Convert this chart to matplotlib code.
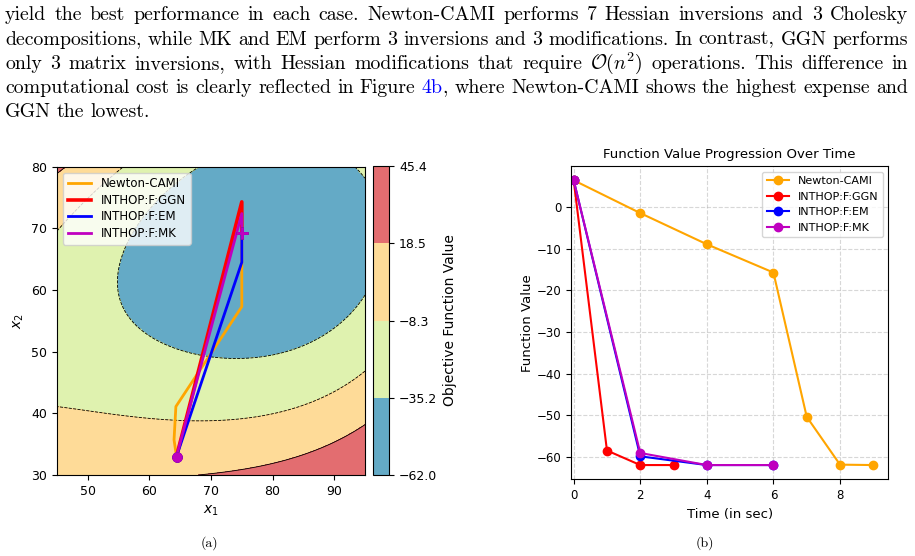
import numpy as np
import matplotlib
matplotlib.use("Agg")
import matplotlib.pyplot as plt
from matplotlib.transforms import IdentityTransform

W, H = 915, 556
fig = plt.figure(figsize=(W / 100, H / 100), dpi=100)

# ---------------- data ----------------
# contour level points (x1, x2) -> objective value
lvl_x1 = [67.0, 61.7, 56.8, 55.5, 56.9, 63.3, 70.9, 82.3, 89.9, 93.6, 95.0, 95.0, 93.6,
          45.0, 54.1, 64.4, 76.9, 87.7, 95.0, 45.0, 56.8,
          70.9, 82.3, 95.0,
          75.0, 95.0, 45.0, 45.0]
lvl_x2 = [80.0, 73.5, 64.9, 60.0, 54.6, 50.3, 48.7, 50.3, 53.5, 56.8, 59.2, 77.0, 80.0,
          41.2, 39.4, 38.3, 39.5, 43.3, 46.8, 69.7, 80.0,
          30.0, 33.5, 38.1,
          69.2, 30.0, 80.0, 30.0]
lvl_f = [-35.2] * 13 + [-8.3] * 8 + [18.5] * 3 + [-62.0, 45.4, 21.0, 12.0]

f_min, f_max = -62.0, 45.4
cbar_labels = ["\u221262.0", "\u221235.2", "\u22128.3", "18.5", "45.4"]

methods = ["Newton-CAMI", "INTHOP:F:GGN", "INTHOP:F:EM", "INTHOP:F:MK"]
colors = ["orange", "red", "blue", "m"]

path_x1 = {
    "Newton-CAMI": [64.4, 64.0, 64.3, 75.0, 75.0, 75.0],
    "INTHOP:F:GGN": [64.4, 75.0, 75.0, 75.0],
    "INTHOP:F:EM": [64.4, 75.0, 75.0, 75.0],
    "INTHOP:F:MK": [64.4, 75.0, 75.0, 75.0],
}
path_x2 = {
    "Newton-CAMI": [33.0, 35.7, 41.1, 57.3, 64.3, 69.2],
    "INTHOP:F:GGN": [33.0, 74.3, 69.2, 69.2],
    "INTHOP:F:EM": [33.0, 64.5, 69.2, 69.2],
    "INTHOP:F:MK": [33.0, 72.4, 69.2, 69.2],
}

time_vals = {
    "Newton-CAMI": [0, 2, 4, 6, 7, 8, 9],
    "INTHOP:F:GGN": [0, 1, 2, 3],
    "INTHOP:F:EM": [0, 2, 4, 6],
    "INTHOP:F:MK": [0, 2, 4, 6],
}
func_vals = {
    "Newton-CAMI": [6.5, -1.4, -8.9, -15.7, -50.4, -61.9, -62.0],
    "INTHOP:F:GGN": [6.5, -58.5, -62.0, -62.0],
    "INTHOP:F:EM": [6.5, -59.9, -62.0, -62.0],
    "INTHOP:F:MK": [6.5, -59.1, -62.0, -62.0],
}

# ---------------- surface from the read level points ----------------
def basis(a, b):
    u = (np.asarray(a) - 70.0) / 25.0
    v = (np.asarray(b) - 55.0) / 25.0
    return np.stack([np.ones_like(u), u, v, u * u, u * v, v * v,
                     u ** 3, u * u * v, u * v * v, v ** 3], axis=-1)

coef, *_ = np.linalg.lstsq(basis(lvl_x1, lvl_x2), np.array(lvl_f), rcond=None)
g1 = np.linspace(45, 95, 300)
g2 = np.linspace(30, 80, 300)
X1, X2 = np.meshgrid(g1, g2)
Z = np.clip(basis(X1, X2) @ coef, f_min, f_max)
levels = np.linspace(f_min, f_max, 5)

# ---------------- left panel ----------------
ax1 = fig.add_axes([57 / W, 1 - 475 / H, 308 / W, 308.3 / H])
cf = ax1.contourf(X1, X2, Z, levels=levels, cmap="Spectral_r", alpha=0.8)
ax1.contour(X1, X2, Z, levels=levels[1:-1], colors="black", linewidths=0.6)
for m, c in zip(methods, colors):
    lw = 2.6 if m == "INTHOP:F:GGN" else 2.0
    ax1.plot(path_x1[m], path_x2[m], color=c, lw=lw, label=m)
for m, c in zip(methods, colors):
    ax1.plot(path_x1[m][0], path_x2[m][0], "o", color=c, ms=6.5)
    ax1.plot(path_x1[m][-1], path_x2[m][-1], "+", color=c, ms=9, mew=2)
ax1.set_xlim(45, 95)
ax1.set_ylim(30, 80)
ax1.set_xticks([50, 60, 70, 80, 90])
ax1.set_yticks([30, 40, 50, 60, 70, 80])
ax1.tick_params(labelsize=9)
ax1.set_xlabel("$x_1$", fontsize=10)
ax1.set_ylabel("$x_2$", fontsize=10)
ax1.legend(loc="upper left", fontsize=8.5, labelspacing=0.3)

cax = fig.add_axes([373.3 / W, 1 - 475 / H, 16 / W, 309 / H])
cb = fig.colorbar(cf, cax=cax, ticks=levels)
cb.set_ticklabels(cbar_labels)
cb.ax.tick_params(labelsize=9)
cb.set_label("Objective Function Value", fontsize=10)

# ---------------- right panel ----------------
ax2 = fig.add_axes([571 / W, 1 - 479.3 / H, 317.3 / W, 313.3 / H])
for m, c in zip(methods, colors):
    ax2.plot(time_vals[m], func_vals[m], "-o", color=c, lw=1.5, ms=6, label=m)
ax2.set_xlim(-0.08, 9.45)
ax2.grid(True, linestyle="--", alpha=0.5)
ax2.tick_params(labelsize=8.5)
ax2.set_xlabel("Time (in sec)", fontsize=9.5)
ax2.set_ylabel("Function Value", fontsize=9.5, labelpad=2)
ax2.set_title("Function Value Progression Over Time", fontsize=9.5)
ax2.legend(loc="upper right", fontsize=8)

# ---------------- paragraph text (justified) ----------------
renderer = fig.canvas.get_renderer()
FS = 14.3
K = "black"
B = (0.0, 0.0, 1.0)
lines = [
    "yield the best performance in each case. Newton-CAMI performs 7 Hessian inversions and 3 Cholesky",
    "decompositions, while MK and EM perform 3 inversions and 3 modifications. In contrast, GGN performs",
    "only 3 matrix inversions, with Hessian modifications that require $\\mathcal{O}(n^2)$ operations. This difference in",
    "computational cost is clearly reflected in Figure 4b, where Newton-CAMI shows the highest expense and",
    "GGN the lowest.",
]
baselines = [20.5, 44.6, 68.7, 92.8, 117]
x_left, x_right = 5, 908


def make_text(s, color):
    kw = dict(fontsize=FS, color=color, va="baseline", ha="left",
              transform=IdentityTransform())
    if s.startswith("$"):
        t = fig.text(0, 0, s, math_fontfamily="cm", **kw)
    else:
        t = fig.text(0, 0, s, family="cmr10", **kw)
    return t


for li, (line, yb) in enumerate(zip(lines, baselines)):
    words = line.split(" ")
    toks = []
    for w in words:
        if w == "4b,":
            toks.append([make_text("4b", B), make_text(",", K)])
        else:
            toks.append([make_text(w, K)])
    widths = []
    for tok in toks:
        ws = [t.get_window_extent(renderer).width for t in tok]
        widths.append(ws)
    total = sum(sum(ws) for ws in widths)
    if li < len(lines) - 1:
        gap = (x_right - x_left - total) / (len(toks) - 1)
    else:
        gap = FS * 100 / 72 * 0.3
    x = x_left
    y = H - yb
    for tok, ws in zip(toks, widths):
        for t, w in zip(tok, ws):
            t.set_position((x, y))
            x += w
        x += gap

# captions
fig.text(209 / W, 1 - 543 / H, "(a)", family="cmr10", fontsize=10, ha="center", va="center")
fig.text(705 / W, 1 - 543 / H, "(b)", family="cmr10", fontsize=10, ha="center", va="center")

fig.savefig("out.png", dpi=100)
